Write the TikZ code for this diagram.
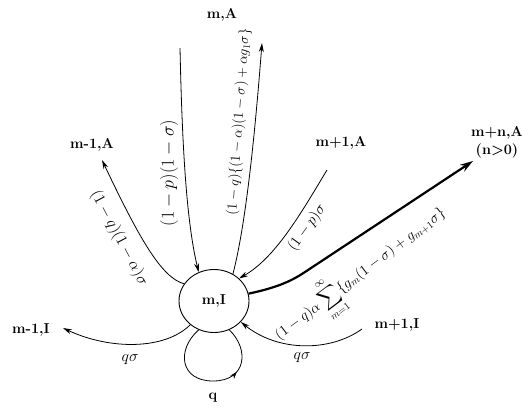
\documentclass[tikz,border=0pt]{standalone}
\usepackage{amsmath}
\usetikzlibrary{arrows.meta,shapes.geometric,decorations.markings}
\begin{document}
\begin{tikzpicture}[x=1pt,y=-1pt,
  lab/.style={font=\Large\bfseries, inner sep=1pt},
  elab/.style={font=\Large, inner sep=0pt},
  conn/.style={line width=0.8pt, -{Stealth[length=9pt,width=5pt]}},
  thickconn/.style={line width=2.2pt, -{Stealth[length=13pt,width=8pt]}},
  state/.style={ellipse, draw, line width=0.9pt, minimum width=70pt, minimum height=63pt, font=\Large\bfseries, inner sep=0pt}]
\useasboundingbox (0,0) rectangle (522,408);
% nodes
\node[state] (c) at (214,301) {m,I};
\node[lab] (mA) at (222,15) {m,A};
\node[lab] (m1A) at (92,145) {m-1,A};
\node[lab] (p1A) at (341,143) {m+1,A};
\node[lab, align=center] (mnA) at (497,142) {m+n,A\\(n>0)};
\node[lab] (p1I) at (397,325) {m+1,I};
\node[lab] (m1I) at (31,330) {m-1,I};
\node[lab] (q) at (213,398) {q};
% free ends
\coordinate (a1) at (180,48);
\coordinate (a2) at (262,43);
\coordinate (a3) at (102,160);
\coordinate (a4) at (327,170);
\coordinate (a5) at (473,161);
\coordinate (a6) at (362,329);
\coordinate (a7) at (63,328);
% connectors
\draw[conn] (a1) .. controls (182,140) and (186,220) .. (c.118);
\draw[conn] (c.55) .. controls (247,220) and (256,120) .. (a2);
\draw[conn] (c.150) .. controls (162,278) and (140,240) .. (a3);
\draw[conn] (a4) .. controls (300,215) and (275,258) .. (c.42);
\draw[thickconn] (c.12) .. controls (275,288) and (290,282) .. (305,272) -- (a5);
\draw[conn] (a6) .. controls (330,352) and (278,352) .. (c.-38);
\draw[conn] (c.-135) .. controls (165,350) and (110,350) .. (a7);
\draw[line width=0.8pt, decoration={markings, mark=at position 0.68 with {\arrow{Stealth[length=7pt,width=5pt]}}}, postaction={decorate}]
  (c.-118) .. controls (176,350) and (180,381) .. (213,381) .. controls (246,381) and (250,350) .. (c.-62);
% labels
\node[elab, font=\LARGE, scale=1.05, rotate=90] (l1) at (169,173) {$(1-p)(1-\sigma)$};
\node[elab, scale=0.97, rotate=86] (l2) at (239,122) {$(1-q)\{(1-\alpha)(1-\sigma)+\alpha g_1\sigma\}$};
\node[elab, scale=1.1, rotate=-62] (l3) at (119,238) {$(1-q)(1-\alpha)\sigma$};
\node[elab, scale=1.05, rotate=54] (l4) at (307,228) {$(1-p)\sigma$};
\node[elab, scale=1.02, rotate=37] (l5) at (361,275) {$\displaystyle(1-q)\alpha\sum_{m=1}^{\infty}\{g_m(1-\sigma)+g_{m+1}\sigma\}$};
\node[elab, scale=1.1] (l6) at (302,358) {$q\sigma$};
\node[elab, scale=1.1] (l7) at (130,360) {$q\sigma$};
\end{tikzpicture}
\end{document}
